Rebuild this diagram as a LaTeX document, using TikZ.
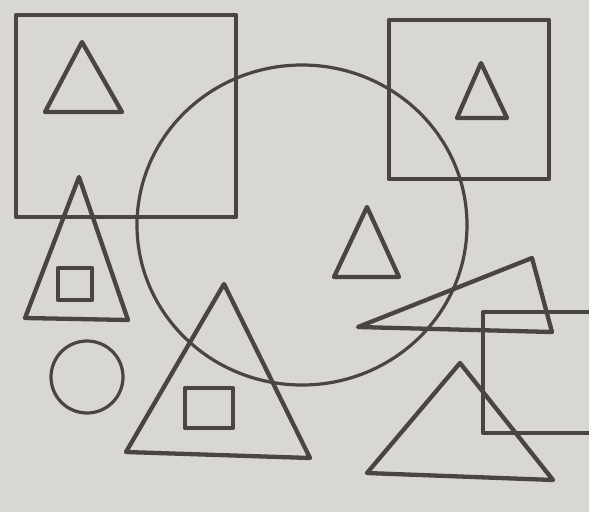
\documentclass[tikz,border=0pt]{standalone}
\usepackage{tikz}
\definecolor{paper}{HTML}{D9D7D1}
\definecolor{ink}{HTML}{4A4442}
\tikzset{
    outline/.style={draw=ink, line width=4.3pt, line join=round},
    thinline/.style={draw=ink, line width=3.2pt},
    tri/.style={outline}
}

\begin{document}
\begin{tikzpicture}[x=1pt, y=-1pt]
    \fill [paper] (0,0) rectangle (589,512);
    \useasboundingbox (0,0) rectangle (589,512);
    \clip (0,0) rectangle (589,512);

    % squares at the top
    \draw [outline] (16,15) rectangle (236,217);
    \draw [tri] (82,42) -- (122,112) -- (45,112) -- cycle;
    \draw [outline] (389,20) rectangle (549,179);
    \draw [tri] (481,63) -- (507,118) -- (457,118) -- cycle;

    % big circle
    \draw [thinline] (302,225) ellipse (165 and 160);
    \draw [tri] (367,207) -- (399,277) -- (334,277) -- cycle;

    % left side
    \draw [tri] (79,177) -- (128,320) -- (25,318) -- cycle;
    \draw [outline] (58,268) rectangle (92,300);
    \draw [thinline] (87,377) circle (36);

    % bottom triangle
    \draw [tri] (224,284) -- (310,458) -- (126,452) -- cycle;
    \draw [outline] (185,388) rectangle (233,428);

    % right side
    \draw [tri] (358,327) -- (532,258) -- (552,332) -- cycle;
    \draw [outline] (600,312) -- (483,312) -- (483,433) -- (600,433);
    \draw [tri] (460,363) -- (553,480) -- (367,473) -- cycle;
\end{tikzpicture}
\end{document}
